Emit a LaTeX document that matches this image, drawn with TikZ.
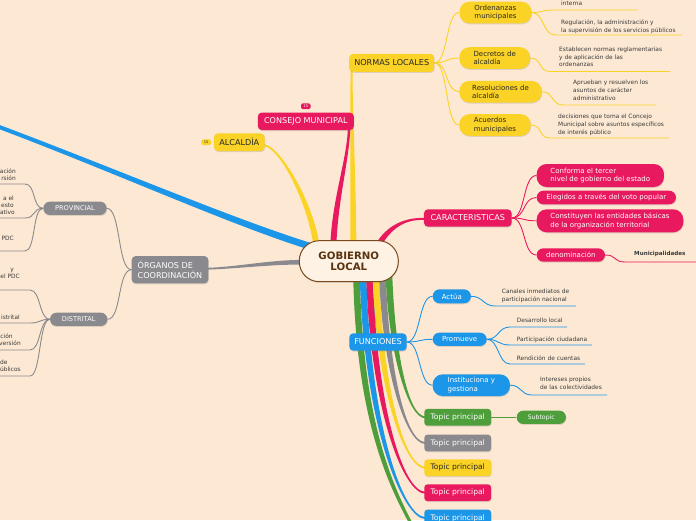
\documentclass[tikz,border=0pt]{standalone}
\usepackage{fontspec}
\setmainfont{DejaVu Sans}
\usetikzlibrary{shadows,calc}
\pgfdeclarelayer{lines}
\pgfsetlayers{lines,main}
\definecolor{bgc}{HTML}{FDE9D3}
\definecolor{cy}{HTML}{FBD226}
\definecolor{cp}{HTML}{E8195E}
\definecolor{cb}{HTML}{1C96E8}
\definecolor{cg}{HTML}{8A8A8E}
\definecolor{cgr}{HTML}{4E9E3C}
\definecolor{cbr}{HTML}{7A4A1E}
\definecolor{ccf}{HTML}{FEF2E4}
\definecolor{ctx}{HTML}{3A3A3A}
\definecolor{ctb}{HTML}{5A3310}
\newcommand{\tapr}[7]{%
  \path (#2) coordinate (tS) (#4) coordinate (tA) (#5) coordinate (tB) (#6) coordinate (tE);
  \path ($(tS)!#3!90:(tA)$) coordinate (tS1) ($(tS)!#3!-90:(tA)$) coordinate (tS2)
        ($(tE)!#7!-90:(tB)$) coordinate (tE1) ($(tE)!#7!90:(tB)$) coordinate (tE2);
  \fill[#1] (tS1) .. controls ($(tA)+(tS1)-(tS)$) and ($(tB)+(tE1)-(tE)$) .. (tE1)
     -- (tE2) .. controls ($(tB)+(tE2)-(tE)$) and ($(tA)+(tS2)-(tS)$) .. (tS2) -- cycle;}
\tikzset{
  nd/.style={rounded corners=4pt, inner sep=0pt, align=center,
     drop shadow={opacity=0.25, shadow xshift=0.5pt, shadow yshift=-1pt}},
  pill/.style={rounded corners=#1},
  badge/.style={rounded corners=1.5pt, inner sep=0pt, minimum width=9.5pt, minimum height=5.7pt,
     font=\fontsize{3.6}{4}\selectfont},
  fmain/.style={font=\fontsize{8.1}{10}\selectfont},
  fsub/.style={font=\fontsize{7}{8.6}\selectfont},
  ftop/.style={font=\fontsize{7.6}{9}\selectfont},
  note/.style={font=\fontsize{5.9}{7.6}\selectfont, text=ctx, align=left, inner sep=0pt,
     anchor=north west},
  gnote/.style={font=\fontsize{5.9}{7.6}\selectfont, text=ctx, inner sep=0pt, anchor=mid east},
  cn/.style={line width=0.9pt},
}
\begin{document}
\begin{tikzpicture}[x=1pt,y=-1pt]
\begin{pgfonlayer}{lines}
\fill[bgc] (0,0) rectangle (696,520);
\end{pgfonlayer}
\useasboundingbox (0,0) rectangle (696,520);

% central
\node[nd, fill=ccf, draw=cbr, line width=1pt, rounded corners=20pt, minimum width=99pt,
  minimum height=41pt, font=\bfseries\fontsize{10.2}{11.7}\selectfont, text=ctb] (C) at (348.8,261.2) {GOBIERNO\\LOCAL};

% normas locales
\node[nd, fill=cy, text=black!85, fmain, minimum width=85pt, minimum height=18pt] (NL) at (391.7,62.8) {NORMAS LOCALES};
\node[nd, fill=cy, text=black!85, fsub, pill=10pt, minimum width=72pt, minimum height=21.6pt, align=left] (O1) at (495.5,12.5) {Ordenanzas\\municipales};
\node[nd, fill=cy, text=black!85, fsub, pill=10pt, minimum width=70.7pt, minimum height=21.6pt, align=left] (O2) at (494.7,58) {Decretos de\\alcaldía};
\node[nd, fill=cy, text=black!85, fsub, pill=10pt, minimum width=82.4pt, minimum height=21.6pt, align=left] (O3) at (500.5,91.7) {Resoluciones de\\alcaldía};
\node[nd, fill=cy, text=black!85, fsub, pill=10pt, minimum width=71.4pt, minimum height=21.6pt, align=left] (O4) at (495,125) {Acuerdos\\municipales};

\node[note] (N1) at (561,1.3) {interna};
\node[note] (N2) at (561,19.5) {Regulación, la administración y\\la supervisión de los servicios públicos};
\node[note] (N3) at (559,46.8) {Establecen normas reglamentarias\\y de aplicación de las\\ordenanzas};
\node[note] (N4) at (573,80.2) {Aprueban y resuelven los\\asuntos de carácter\\administrativo};
\node[note] (N5) at (558,114.2) {decisiones que toma el Concejo\\Municipal sobre asuntos específicos\\de interés público};

% consejo, alcaldia
\node[nd, fill=cp, text=white, fmain, minimum width=96pt, minimum height=17.5pt] (CM) at (305.8,121.3) {CONSEJO MUNICIPAL};
\node[badge, fill=cp, text=white] (CMb) at (305.8,106.2) {15};
\node[nd, fill=cy, text=black!85, fmain, minimum width=50.7pt, minimum height=17.7pt] (AL) at (239.3,142.2) {ALCALDÍA};
\node[badge, fill=cy, text=black!80] (ALb) at (206.2,142.2) {15};

% organos
\node[nd, fill=cg, text=white, fmain, minimum width=76.7pt, minimum height=27.3pt, align=left] (OR) at (170,269.7) {ÓRGANOS DE\\COORDINACIÓN};
\node[nd, fill=cg, text=white, font=\fontsize{6.6}{8}\selectfont, pill=6.5pt, minimum width=63.3pt, minimum height=13.3pt] (PR) at (75,208.3) {PROVINCIAL};
\node[nd, fill=cg, text=white, font=\fontsize{6.6}{8}\selectfont, pill=6.5pt, minimum width=57.3pt, minimum height=13.3pt] (DI) at (78.7,319.3) {DISTRITAL};

\node[gnote] (g1) at (16,171) {ación};
\node[gnote] (g2) at (16,178) {rsión};
\node[gnote] (g3) at (14,197.3) {a el};
\node[gnote] (g4) at (14,204.3) {esto};
\node[gnote] (g5) at (15,211.7) {ativo};
\node[gnote] (g6) at (14,238) {PDC};
\node[gnote] (g7) at (14,268.3) {y};
\node[gnote] (g8) at (20,276) {el PDC};
\node[gnote] (g9) at (20,316.7) {istrital};
\node[gnote] (g10) at (12.8,336) {ción};
\node[gnote] (g11) at (21,342.7) {versión};
\node[gnote] (g12) at (7.8,361.7) {de};
\node[gnote] (g13) at (21,369) {úblicos};

% caracteristicas
\node[nd, fill=cp, text=white, fmain, minimum width=87.7pt, minimum height=17.4pt] (CA) at (467.8,218) {CARACTERISTICAS};
\node[nd, fill=cp, text=white, fsub, pill=10pt, minimum width=127.3pt, minimum height=23pt, align=left] (K1) at (600.3,175.5) {Conforma el tercer\\nivel de gobierno del estado};
\node[nd, fill=cp, text=white, fsub, pill=6.8pt, minimum width=139.3pt, minimum height=13.6pt] (K2) at (606.3,197.5) {Elegidos a través del voto popular};
\node[nd, fill=cp, text=white, fsub, pill=10pt, minimum width=146.6pt, minimum height=23pt, align=left] (K3) at (610,220.8) {Constituyen las entidades básicas\\de la organización territorial};
\node[nd, fill=cp, text=white, fsub, pill=6.7pt, minimum width=68.3pt, minimum height=13.4pt] (K4) at (570.8,255) {denominación};
\node[note, font=\bfseries\fontsize{5.6}{7}\selectfont] (NM) at (634,251.3) {Municipalidades};

% funciones
\node[nd, fill=cb, text=white, fmain, minimum width=57.4pt, minimum height=17.4pt] (FU) at (378,342) {FUNCIONES};
\node[nd, fill=cb, text=white, fsub, pill=7pt, minimum width=38.3pt, minimum height=14pt] (F1) at (451.8,296.3) {Actúa};
\node[nd, fill=cb, text=white, fsub, pill=6.7pt, minimum width=54pt, minimum height=13.3pt] (F2) at (459.7,339.3) {Promueve};
\node[nd, fill=cb, text=white, fsub, pill=10pt, minimum width=77.3pt, minimum height=21.7pt, align=left] (F3) at (471.3,385.2) {Instituciona y\\gestiona};
\node[note] (NA) at (501.7,289.3) {Canales inmediatos de\\participación nacional};
\node[note] (NP1) at (516.7,318) {Desarrollo local};
\node[note] (NP2) at (516.7,336.3) {Participación ciudadana};
\node[note] (NP3) at (516.7,355.3) {Rendición de cuentas};
\node[note] (NI) at (540,377) {Intereses propios\\de las colectividades};

% topics
\node[nd, fill=cgr, text=white, ftop, rounded corners=3pt, minimum width=66.7pt, minimum height=16.7pt] (T1) at (457.7,417.3) {Topic principal};
\node[nd, fill=cg, text=white, ftop, rounded corners=3pt, minimum width=66.7pt, minimum height=16.7pt] (T2) at (457.7,443) {Topic principal};
\node[nd, fill=cy, text=black!85, ftop, rounded corners=3pt, minimum width=66.7pt, minimum height=16.7pt] (T3) at (457.7,467.7) {Topic principal};
\node[nd, fill=cp, text=white, ftop, rounded corners=3pt, minimum width=66.7pt, minimum height=16.7pt] (T4) at (457.7,492.7) {Topic principal};
\node[nd, fill=cb, text=white, ftop, rounded corners=3pt, minimum width=66.7pt, minimum height=16.7pt] (T5) at (457.7,518) {Topic principal};
\node[nd, fill=cgr, text=white, font=\fontsize{6.2}{7}\selectfont, pill=6.6pt, minimum width=49.3pt, minimum height=13.3pt] (ST) at (541.3,417.3) {Subtopic};

% free ends
\coordinate (BO) at (-6,125);
\coordinate (G1o) at (420,540);
\coordinate (u1s) at (553,10); \coordinate (u1e) at (638,10);
\coordinate (u2s) at (555,35); \coordinate (u2e) at (682,35);
\coordinate (u3s) at (550,71.5); \coordinate (u3e) at (670,71.5);
\coordinate (u4s) at (563,105); \coordinate (u4e) at (656,105);
\coordinate (u5s) at (550,138); \coordinate (u5e) at (669,138);
\coordinate (a1s) at (495,306); \coordinate (a1e) at (576,306);
\coordinate (p1s) at (510,327); \coordinate (p1e) at (567,327);
\coordinate (p2s) at (510,345); \coordinate (p2e) at (592,345);
\coordinate (p3s) at (510,364); \coordinate (p3e) at (585,364);
\coordinate (i1s) at (532,395); \coordinate (i1e) at (607,395);
\coordinate (m1s) at (625,262); \coordinate (m1e) at (697,262);
\coordinate (l1s) at (25,184); \coordinate (l1e) at (-1,184);
\coordinate (l2s) at (25,218); \coordinate (l2e) at (-1,218);
\coordinate (l3s) at (25,251); \coordinate (l3e) at (-1,251);
\coordinate (d1s) at (30,290); \coordinate (d1e) at (-1,290);
\coordinate (d2s) at (30,323); \coordinate (d2e) at (-1,323);
\coordinate (d3s) at (30,350); \coordinate (d3e) at (-1,350);
\coordinate (d4s) at (30,376); \coordinate (d4e) at (-1,376);

\begin{pgfonlayer}{lines}
% main branches
\tapr{cy}{$(C.north)+(4.5,6)$}{3pt}{$(C.north)+(4.5,-50)$}{$(NL.south west)+(2.5,40)$}{$(NL.south west)+(2.5,-1)$}{1pt}
\tapr{cp}{$(C.north)+(-15.5,6)$}{3pt}{$(C.north)+(-14,-40)$}{$(CM.south east)+(-6,30)$}{$(CM.south east)+(-5,-1)$}{1.2pt}
\tapr{cy}{$(C.north)+(-32,8)$}{3pt}{$(C.north)+(-37,-36)$}{$(AL.east)+(15,4)$}{$(AL.east)+(-1,3)$}{1pt}
\tapr{cb}{$(C.west)+(11,-15)$}{3.4pt}{$(C.west)+(-69,-40)$}{$(BO)+(120,45)$}{BO}{2pt}
\tapr{cg}{$(C.west)+(4,1)$}{2.3pt}{$(C.west)+(-30,1)$}{$(OR.east)+(30,-2)$}{$(OR.east)+(-1,-1)$}{0.9pt}
\tapr{cp}{$(C.north east)+(-21,6)$}{2.8pt}{$(C.north east)+(-10,-14)$}{$(CA.west)+(-18,0)$}{$(CA.west)+(1,1)$}{1pt}
% bundle
\draw[cb, line width=2pt] ($(C.south)+(20,-6)$) -- (FU.north);
\tapr{cgr}{$(C.south)+(7.7,-6)$}{3.3pt}{$(C.south)+(11,150)$}{$(G1o)+(-25,-45)$}{G1o}{1.5pt}
\tapr{cb}{$(C.south)+(14.2,-6)$}{3.3pt}{$(C.south)+(19,150)$}{$(T5.west)+(-20,0)$}{$(T5.west)+(1,0)$}{1pt}
\tapr{cp}{$(C.south)+(20.7,-6)$}{3.3pt}{$(C.south)+(25,130)$}{$(T4.west)+(-20,0)$}{$(T4.west)+(1,0)$}{1pt}
\tapr{cy}{$(C.south)+(27.2,-6)$}{3.3pt}{$(C.south)+(31,110)$}{$(T3.west)+(-19,0)$}{$(T3.west)+(1,0)$}{1pt}
\tapr{cg}{$(C.south)+(33.7,-6)$}{3.3pt}{$(C.south)+(37,90)$}{$(T2.west)+(-18,0)$}{$(T2.west)+(1,0)$}{1pt}
\tapr{cgr}{$(C.south)+(40.2,-6)$}{3.3pt}{$(C.south)+(43,70)$}{$(T1.west)+(-16,0)$}{$(T1.west)+(1,0)$}{1pt}

% thin connectors
\foreach \t in {O1,O2,O3,O4}
  \draw[cy, cn] (NL.east) .. controls +(14,0) and +(-14,0) .. (\t.west);
\draw[cy, cn] (O1.east) .. controls +(12,0) and +(-12,0) .. (u1s) -- (u1e);
\draw[cy, cn] (O1.east) .. controls +(12,0) and +(-12,0) .. (u2s) -- (u2e);
\draw[cy, cn] (O2.east) .. controls +(12,0) and +(-12,0) .. (u3s) -- (u3e);
\draw[cy, cn] (O3.east) .. controls +(12,0) and +(-12,0) .. (u4s) -- (u4e);
\draw[cy, cn] (O4.east) .. controls +(12,0) and +(-12,0) .. (u5s) -- (u5e);

\draw[cg, cn] (OR.west) .. controls +(-14,0) and +(14,0) .. (PR.east);
\draw[cg, cn] (OR.west) .. controls +(-14,0) and +(14,0) .. (DI.east);
\draw[cg, cn] (PR.west) .. controls +(-11,0) and +(11,0) .. (l1s) -- (l1e);
\draw[cg, cn] (PR.west) .. controls +(-11,0) and +(11,0) .. (l2s) -- (l2e);
\draw[cg, cn] (PR.west) .. controls +(-11,0) and +(11,0) .. (l3s) -- (l3e);
\draw[cg, cn] (DI.west) .. controls +(-11,0) and +(11,0) .. (d1s) -- (d1e);
\draw[cg, cn] (DI.west) .. controls +(-11,0) and +(11,0) .. (d2s) -- (d2e);
\draw[cg, cn] (DI.west) .. controls +(-11,0) and +(11,0) .. (d3s) -- (d3e);
\draw[cg, cn] (DI.west) .. controls +(-11,0) and +(11,0) .. (d4s) -- (d4e);

\foreach \t in {K1,K2,K3,K4}
  \draw[cp, cn] (CA.east) .. controls +(14,0) and +(-14,0) .. (\t.west);
\draw[cp, cn] (K4.east) .. controls +(12,0) and +(-12,0) .. (m1s) -- (m1e);

\foreach \t in {F1,F2,F3}
  \draw[cb, cn] (FU.east) .. controls +(14,0) and +(-14,0) .. (\t.west);
\draw[cb, cn] (F1.east) .. controls +(12,0) and +(-12,0) .. (a1s) -- (a1e);
\draw[cb, cn] (F2.east) .. controls +(12,0) and +(-12,0) .. (p1s) -- (p1e);
\draw[cb, cn] (F2.east) .. controls +(12,0) and +(-12,0) .. (p2s) -- (p2e);
\draw[cb, cn] (F2.east) .. controls +(12,0) and +(-12,0) .. (p3s) -- (p3e);
\draw[cb, cn] (F3.east) .. controls +(12,0) and +(-12,0) .. (i1s) -- (i1e);

\draw[cgr, cn] (T1.east) -- (ST.west);
\end{pgfonlayer}
\end{tikzpicture}
\end{document}
